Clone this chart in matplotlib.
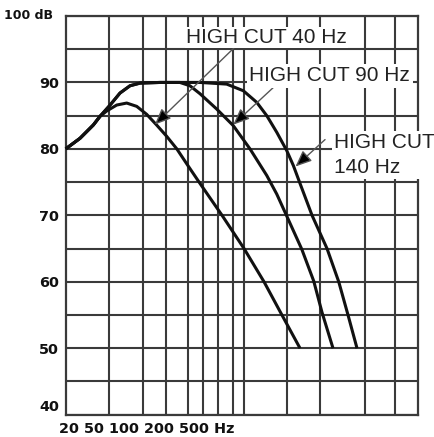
import matplotlib
matplotlib.use("Agg")
import matplotlib.pyplot as plt
from matplotlib.ticker import NullLocator

# ---- data ----
freq_40 = [20, 26.5, 34.4, 39.2, 44.7, 54.4, 66.2, 80.6, 98, 119, 145, 177, 216, 274, 430, 662, 980, 1393, 1986]
db_40 = [80.0, 81.6, 83.6, 84.9, 85.7, 86.6, 86.9, 86.4, 85.2, 83.6, 81.9, 80.0, 77.7, 75.0, 70.0, 65.0, 60.0, 55.0, 50.0]

freq_90 = [20, 26.5, 34.4, 39.2, 47.8, 58, 70.6, 86, 127, 188, 229, 279, 387, 536, 744, 1034, 1258, 1530, 2056, 2600, 3058, 3794]
db_90 = [80.0, 81.6, 83.6, 84.9, 86.6, 88.4, 89.5, 89.9, 90.0, 90.0, 89.5, 88.3, 86.0, 83.5, 80.0, 76.0, 73.2, 69.9, 64.9, 60.1, 55.4, 50.0]

freq_140 = [20, 26.5, 34.4, 39.2, 47.8, 58, 70.6, 86, 127, 188, 279, 471, 653, 850, 1034, 1258, 1530, 1742, 1986, 2514, 3374, 4246, 5094, 6076]
db_140 = [80.0, 81.6, 83.6, 84.9, 86.6, 88.4, 89.5, 89.9, 90.0, 90.0, 90.0, 89.75, 88.75, 87.0, 85.0, 82.5, 79.75, 77.5, 74.8, 70.0, 65.0, 60.0, 55.0, 50.0]

grid_freqs = [46.8, 90.6, 143, 219, 294, 395, 530, 662, 1530, 2940, 7150, 12880]
y_grid = list(range(40, 101, 5))
y_labels = ["", "", "50", "", "60", "", "70", "", "80", "", "90", "", ""]
x_label_text = "20 50 100 200 500 Hz"

labels = ["HIGH CUT 40 Hz", "HIGH CUT 90 Hz", "HIGH CUT\n140 Hz"]
label_pos = [(212, 95.9, "baseline", 0.05),
             (734, 90.15, "baseline", 0.12),
             (3892, 82.39, "top", 0.1)]
arrows = [((544, 95.2), (115, 83.65)),
          ((1170, 89.2), (536, 83.65)),
          ((3244, 81.4), (1818, 77.35))]

# ---- figure ----
fig = plt.figure(figsize=(4.34, 4.37), dpi=100)
ax = fig.add_axes([0.1514, 0.0510, 0.8111, 0.9124])
ax.set_xscale("log")
ax.set_xlim(20, 20000)
ax.set_ylim(40, 100)

gcol = "#3a3a3a"
ax.set_xticks(grid_freqs)
ax.xaxis.set_minor_locator(NullLocator())
ax.set_xticklabels([])
ax.set_yticks(y_grid)
ax.set_yticklabels(y_labels)
ax.grid(True, color=gcol, linewidth=1.5)
ax.set_axisbelow(True)
for s in ax.spines.values():
    s.set_color(gcol)
    s.set_linewidth(1.6)
ax.tick_params(length=0, pad=4.8)
tfont = dict(family="DejaVu Sans", weight="bold", size=10.4)
for t in ax.get_yticklabels():
    t.set_fontproperties(matplotlib.font_manager.FontProperties(**tfont))
    t.set_color("#111111")

ax.annotate("100 dB", xy=(0, 100), xycoords=("axes fraction", "data"),
            xytext=(-12.5, 0), textcoords="offset pixels",
            ha="right", va="center", color="#111111", annotation_clip=False,
            family="DejaVu Sans", weight="bold", size=9.0)
ax.annotate("40", xy=(0, 40), xycoords=("axes fraction", "data"),
            xytext=(-6.7, 7.7), textcoords="offset pixels",
            ha="right", va="center", color="#111111", annotation_clip=False, **tfont)
ax.annotate(x_label_text, xy=(0, 0), xycoords="axes fraction",
            xytext=(-6.7, -14.3), textcoords="offset pixels",
            ha="left", va="center", color="#111111", annotation_clip=False, **tfont)

for f, d in [(freq_40, db_40), (freq_90, db_90), (freq_140, db_140)]:
    ax.plot(f, d, color="#111111", linewidth=2.2, solid_joinstyle="round",
            solid_capstyle="butt", zorder=3, clip_on=False)

for (start, tip) in arrows:
    ax.annotate("", xy=tip, xytext=start,
                arrowprops=dict(arrowstyle="-|>,head_length=0.7,head_width=0.3",
                                mutation_scale=14, lw=1.0, ec="#555555", fc="black",
                                shrinkA=0, shrinkB=0),
                zorder=4)

for txt, (x, y, va, pad) in zip(labels, label_pos):
    ax.text(x, y, txt, family="Liberation Sans", fontsize=15, color="#222222",
            ha="left", va=va, zorder=5, clip_on=False, linespacing=1.37,
            bbox=dict(boxstyle="square,pad=%g" % pad, fc="white", ec="none"))

fig.savefig("out.png", dpi=100)
